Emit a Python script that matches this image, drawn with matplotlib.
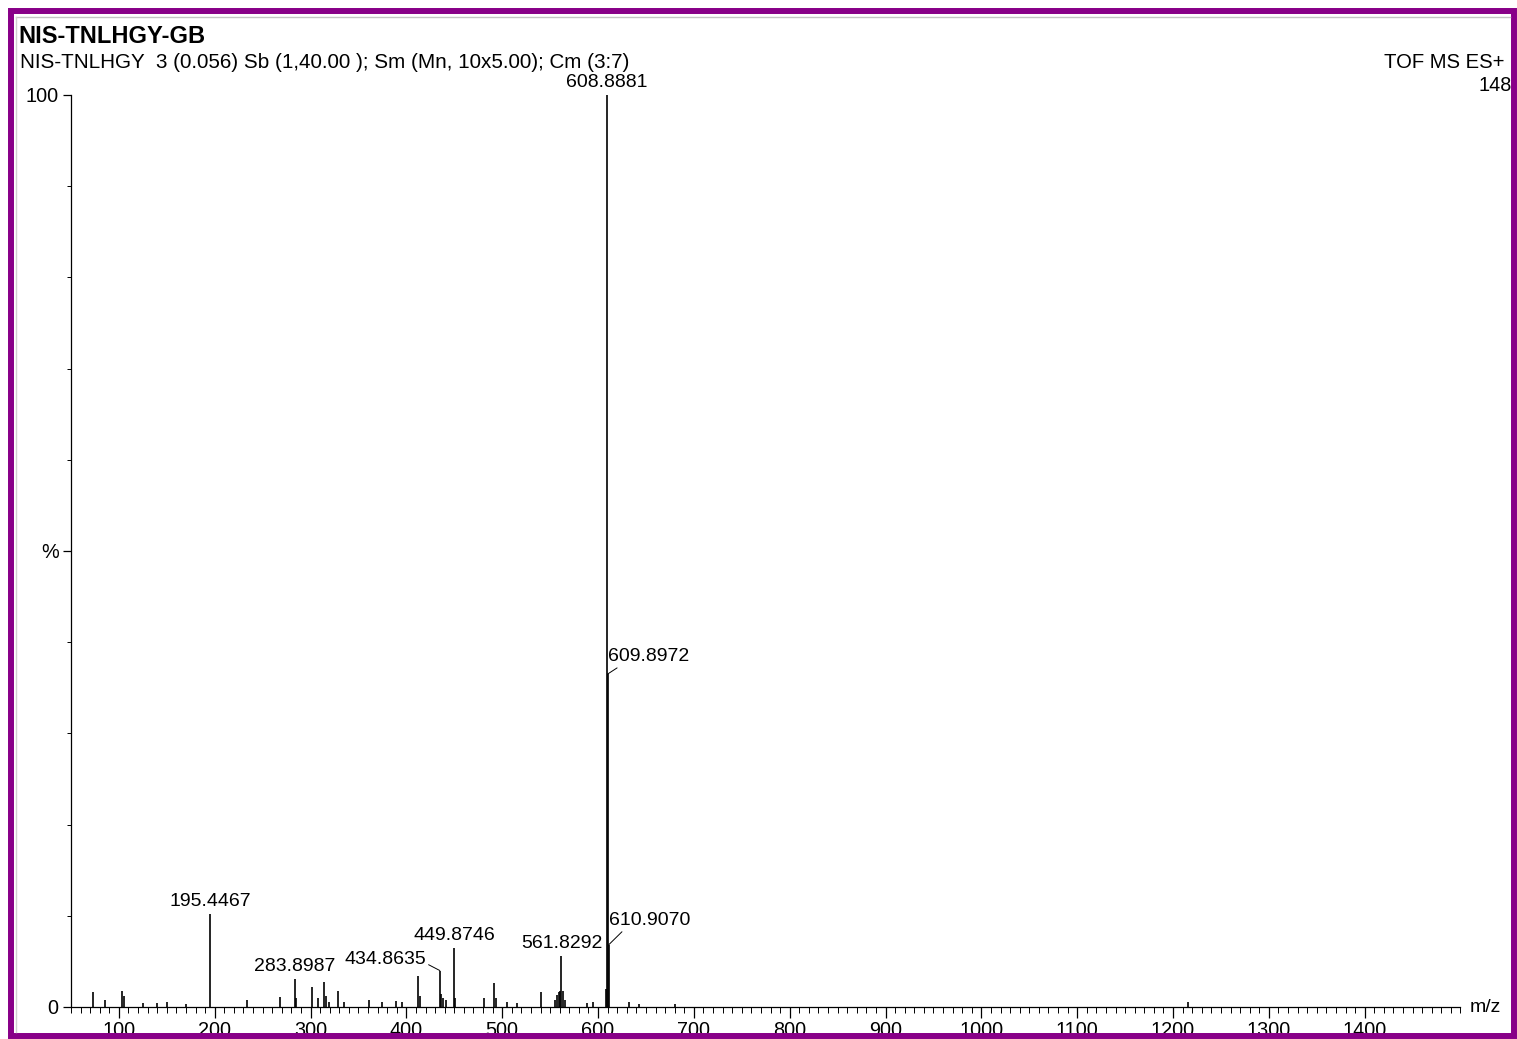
"""
Масс-спектр NIS-TNLHGY-GB (TOF MS ES+), перерисовка в matplotlib
"""

import matplotlib
matplotlib.use("Agg")
import matplotlib.pyplot as plt  # Для построения графиков
from matplotlib.patches import Rectangle  # Для рамки вокруг рисунка
from matplotlib.lines import Line2D
import numpy as np

# Размер рисунка в пикселях
W, H = 1517, 1039

# Тексты заголовка
title = "NIS-TNLHGY-GB"
subtitle = "NIS-TNLHGY  3 (0.056) Sb (1,40.00 ); Sm (Mn, 10x5.00); Cm (3:7)"
mode_text = "TOF MS ES+"
max_count = "148"

# Неподписанные пики: m/z и интенсивность (%)
peak_mz = [73.0, 85.5, 103.5, 105.0, 125.0, 140.0, 150.0, 170.0, 234.0, 268.5,
           285.0, 301.0, 307.5, 313.8, 316.0, 319.0, 328.6, 335.0, 361.0, 375.0,
           389.5, 395.0, 412.5, 414.0, 436.0, 438.0, 441.0, 451.0, 481.0, 491.2,
           493.0, 505.0, 515.0, 540.7, 555.0, 557.0, 559.0, 560.0, 563.0, 565.0,
           588.0, 595.0, 607.8, 632.0, 643.0, 680.0, 1216.0]
peak_int = [1.6, 0.8, 1.8, 1.2, 0.4, 0.4, 0.5, 0.3, 0.8, 1.1,
            1.0, 2.2, 1.0, 2.7, 1.2, 0.6, 1.7, 0.6, 0.8, 0.5,
            0.7, 0.5, 3.4, 1.2, 1.4, 1.0, 0.8, 1.0, 1.0, 2.6,
            1.0, 0.5, 0.4, 1.6, 0.8, 1.3, 1.6, 1.8, 1.8, 0.8,
            0.4, 0.5, 2.0, 0.6, 0.3, 0.3, 0.5]

# Подписанные пики
label_mz = [195.4467, 283.8987, 434.8635, 449.8746, 561.8292, 608.8881, 609.8972, 610.9070]
label_int = [10.2, 3.1, 4.0, 6.5, 5.6, 100.0, 36.5, 6.8]

# Метки оси X
x_ticks = [100, 200, 300, 400, 500, 600, 700, 800, 900, 1000, 1100, 1200, 1300, 1400]


def px(x, y):
    """Перевод пикселей (от верхнего левого угла) в координаты рисунка"""
    return x / W, 1 - y / H


def draw_spectrum():
    plt.rcParams['font.family'] = ['Liberation Sans', 'DejaVu Sans']

    fig = plt.figure(figsize=(W / 100, H / 100), dpi=100)
    fig.patch.set_facecolor('white')

    # Оси: y=0 на 1007 px, y=100 на 95 px
    ax = fig.add_axes([71 / W, (H - 1007) / H, (1460.5 - 71) / W, (1007 - 95) / H])
    ax.set_xlim(50, 1500)
    ax.set_ylim(0, 100)

    # Пики - вертикальные линии
    all_mz = peak_mz + label_mz
    all_int = peak_int + label_int
    ax.vlines(all_mz, 0, all_int, color='black', linewidth=1.2)

    # Простые подписи над пиками
    for mz, val in zip(label_mz, label_int):
        if mz in (434.8635, 609.8972, 610.9070):
            continue
        ax.annotate(f"{mz:.4f}", xy=(mz, val), xytext=(0, 4),
                    textcoords='offset pixels', ha='center', va='bottom',
                    fontsize=14, annotation_clip=False)

    # Подписи с выносными линиями
    line_style = dict(arrowstyle='-', color='black', lw=0.7, shrinkA=0, shrinkB=0)
    ax.annotate("434.8635", xy=(434.8635, 4.0), xytext=(-14, 3),
                textcoords='offset pixels', ha='right', va='bottom', fontsize=14,
                arrowprops=dict(line_style, relpos=(1.0, 0.25)))
    ax.annotate("609.8972", xy=(609.8972, 36.5), xytext=(0, 9),
                textcoords='offset pixels', ha='left', va='bottom', fontsize=14,
                arrowprops=dict(line_style, relpos=(0.17, 0.0)))
    ax.annotate("610.9070", xy=(610.9070, 6.8), xytext=(0, 16),
                textcoords='offset pixels', ha='left', va='bottom', fontsize=14,
                arrowprops=dict(line_style, relpos=(0.2, 0.0)))

    # Оформление осей
    for side in ('top', 'right'):
        ax.spines[side].set_visible(False)
    ax.spines['left'].set_linewidth(0.9)
    ax.spines['bottom'].set_linewidth(0.9)

    ax.set_xticks(x_ticks)
    ax.set_xticks(np.arange(50, 1501, 10), minor=True)
    ax.tick_params(axis='x', which='major', length=8, width=0.9, labelsize=14.3, pad=2)
    ax.tick_params(axis='x', which='minor', length=4, width=0.7)

    ax.set_yticks([0, 50, 100])
    ax.set_yticklabels(['0', '%', '100'])
    ax.set_yticks(np.arange(0, 101, 10), minor=True)
    ax.tick_params(axis='y', which='major', length=6, width=0.9, labelsize=14.3, pad=3)
    ax.tick_params(axis='y', which='minor', length=3, width=0.7)

    ax.annotate("m/z", xy=(1.0, 0.0), xycoords='axes fraction', xytext=(9, 0),
                textcoords='offset pixels', ha='left', va='center', fontsize=14,
                annotation_clip=False)

    # Заголовки
    fig.text(*px(18, 43), title, fontsize=17, fontweight='bold', ha='left', va='baseline')
    fig.text(*px(20, 68), subtitle, fontsize=14.9, ha='left', va='baseline')
    fig.text(*px(1505, 68), mode_text, fontsize=14.6, ha='right', va='baseline')
    fig.text(*px(1512, 91), max_count, fontsize=14.3, ha='right', va='baseline')

    # Тонкие серые линии от скана и фиолетовая рамка
    fig.add_artist(Line2D([16 / W, 1510 / W], [1 - 17 / H, 1 - 17 / H],
                          transform=fig.transFigure, color='#c4c4c4', lw=1))
    fig.add_artist(Line2D([16 / W, 16 / W], [1 - 17 / H, 1 - 1032 / H],
                          transform=fig.transFigure, color='#d0d0d0', lw=1))
    fig.add_artist(Rectangle(px(11, 1036), (1514 - 11) / W, (1036 - 11) / H,
                             transform=fig.transFigure, fill=False,
                             edgecolor='#880088', linewidth=4.3))

    fig.savefig('out.png', dpi=100)


if __name__ == "__main__":
    draw_spectrum()
